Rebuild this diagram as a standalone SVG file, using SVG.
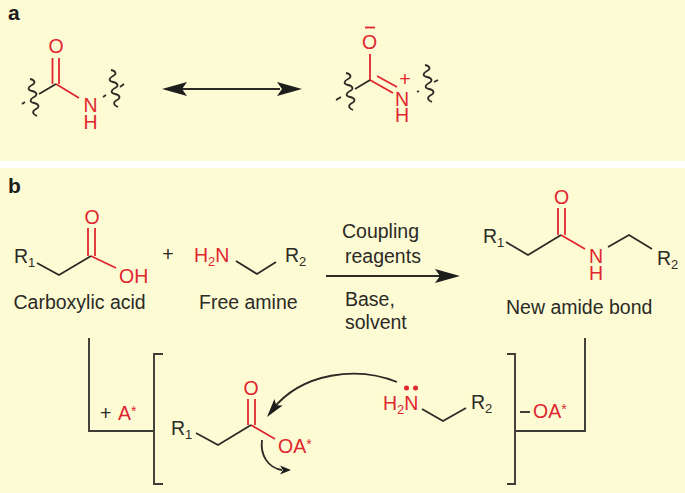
<svg xmlns="http://www.w3.org/2000/svg" width="685" height="493" viewBox="0 0 685 493">
<style>
text{font-family:"Liberation Sans",Arial,sans-serif;font-size:19.500px;fill:#2b2a26}
.r{fill:#e0262f}
.s{font-size:13px}
.h{font-weight:bold;font-size:21px;fill:#1d1d1b}
.k,.e,.w,.c{fill:none;stroke-linecap:butt}
.k{stroke:#2b2a26;stroke-width:1.8}
.e{stroke:#e0262f;stroke-width:1.8}
.w{stroke:#2b2a26;stroke-width:1.8}
.c{stroke:#3c3b35;stroke-width:1.9}
</style>
<defs>
<path id="sq" class="w" d="M-2 0c5 1 6 4 2 6s-5 5 0 6 6 4 2 6-5 5 0 6 6 4 2 6-4 5 1 7"/>
<path id="head" d="M0 0L-25 -7L-20 0L-25 7Z" fill="#1d1d1b"/>
<path id="headsm" d="M0 0L-11 -4.500L-8 0L-11 4.500Z" fill="#1d1d1b"/>
</defs>
<rect width="685" height="493" fill="#fdfbd4"/>
<rect y="161" width="685" height="7" fill="#fff"/>
<g id="panel-a-label"><text class="h" x="8" y="20">a</text></g>
<g id="amide-neutral">
<path class="e" d="M52.500 58V84M59 58V84M56 84L79 98"/>
<path class="k" d="M56 84L39 94"/>
<use href="#sq" x="32" y="79"/><use href="#sq" x="113" y="70"/>
<path class="k" d="M22 104L25 102M103 97L106 95M120 87L124 84"/>
<text class="r" x="56" y="53" text-anchor="middle">O</text>
<text class="r" text-anchor="middle"><tspan x="90.500" y="112">N</tspan><tspan x="90.500" y="128.500">H</tspan></text>
</g>
<g id="amide-charged">
<path class="e" d="M370 54V80L393 93M377 76L397 87"/>
<path class="k" d="M370 80L355 89"/>
<use href="#sq" x="348" y="73"/><use href="#sq" x="427" y="65"/>
<path class="k" d="M336 100L341 97M417 92L419 91M434 82L438 80"/>
<path class="e" d="M365 27.500H375"/>
<text class="r" x="369.500" y="49" text-anchor="middle">O</text>
<text class="r" text-anchor="middle"><tspan x="402" y="105.500">N</tspan><tspan x="402" y="122">H</tspan></text>
<text class="r" x="405" y="86" text-anchor="middle">+</text>
</g>
<g id="panel-b-label"><text class="h" x="8" y="193">b</text></g>
<g id="carboxylic-acid">
<path class="e" d="M88 228V256M95 228V256M91 256L116 268"/>
<path class="k" d="M37 263L59 275L91 256"/>
<text x="14" y="263">R<tspan class="s" dy="4">1</tspan></text>
<text class="r" x="92" y="224" text-anchor="middle">O</text>
<text class="r" x="119" y="283">OH</text>
<text x="13.500" y="309">Carboxylic acid</text>
</g>
<g id="plus"><text x="168" y="261" text-anchor="middle">+</text></g>
<g id="free-amine">
<path class="k" d="M236 261L257 274L276 262"/>
<text class="r" x="194" y="262">H<tspan class="s" dy="4">2</tspan><tspan dy="-4">N</tspan></text>
<text x="285" y="262">R<tspan class="s" dy="4">2</tspan></text>
<text x="199" y="309">Free amine</text>
</g>
<g id="conditions">
<text x="342" y="238">Coupling</text>
<text x="345" y="263">reagents</text>
<text x="345" y="306">Base,</text>
<text x="345" y="329">solvent</text>
</g>
<g id="new-amide">
<path class="e" d="M558 208V235M565 208V235M561 235L585 249"/>
<path class="k" d="M506 242L528 255L561 235M608 247L629 235L652 249"/>
<text x="483" y="243">R<tspan class="s" dy="4">1</tspan></text>
<text class="r" x="561.500" y="204" text-anchor="middle">O</text>
<text class="r" text-anchor="middle"><tspan x="596" y="263">N</tspan><tspan x="596" y="280">H</tspan></text>
<text x="657" y="265">R<tspan class="s" dy="4">2</tspan></text>
<text x="506" y="314">New amide bond</text>
</g>
<g id="activated-ester">
<path class="e" d="M248 399V425M255 399V425M251 425L275 439"/>
<path class="k" d="M196 433L218 445L251 425"/>
<text x="171" y="435">R<tspan class="s" dy="4">1</tspan></text>
<text class="r" x="251" y="395" text-anchor="middle">O</text>
<text class="r" x="278" y="453">OA<tspan baseline-shift="30%" font-size="14">*</tspan></text>
</g>
<g id="amine-lone-pair">
<path class="k" d="M422 409L443 421L466 408"/>
<circle class="r" cx="406.500" cy="388" r="2.500"/><circle class="r" cx="415.500" cy="388" r="2.500"/>
<text class="r" x="383" y="410">H<tspan class="s" dy="4">2</tspan><tspan dy="-4">N</tspan></text>
<text x="471" y="409">R<tspan class="s" dy="4">2</tspan></text>
</g>
<g id="labels">
<text x="100" y="420">+</text>
<text class="r" x="118" y="420">A<tspan baseline-shift="30%" font-size="14">*</tspan></text>
<path class="k" d="M520 412H530"/>
<text class="r" x="533" y="418">OA<tspan baseline-shift="30%" font-size="14">*</tspan></text>
</g>
<g id="connectors">
<path class="k" d="M182 89H280"/>
<use href="#head" transform="translate(302 89)"/><use href="#head" transform="translate(162 89) rotate(180)"/>
<path class="k" d="M326 276H440"/><use href="#head" transform="translate(460 276)"/>
<path class="c" d="M89 338V431H154M163 354H154V484H163"/>
<path class="c" d="M507 354H515V484H507M515 431H585V338"/>
<path class="k" d="M397 382C358 366 302 372 272 410"/><use href="#head" transform="translate(267 417) rotate(128) scale(.75)"/>
<path class="k" d="M262 440C260 455 268 468 282 470"/><use href="#headsm" transform="translate(291 470)"/>
</g>
</svg>
